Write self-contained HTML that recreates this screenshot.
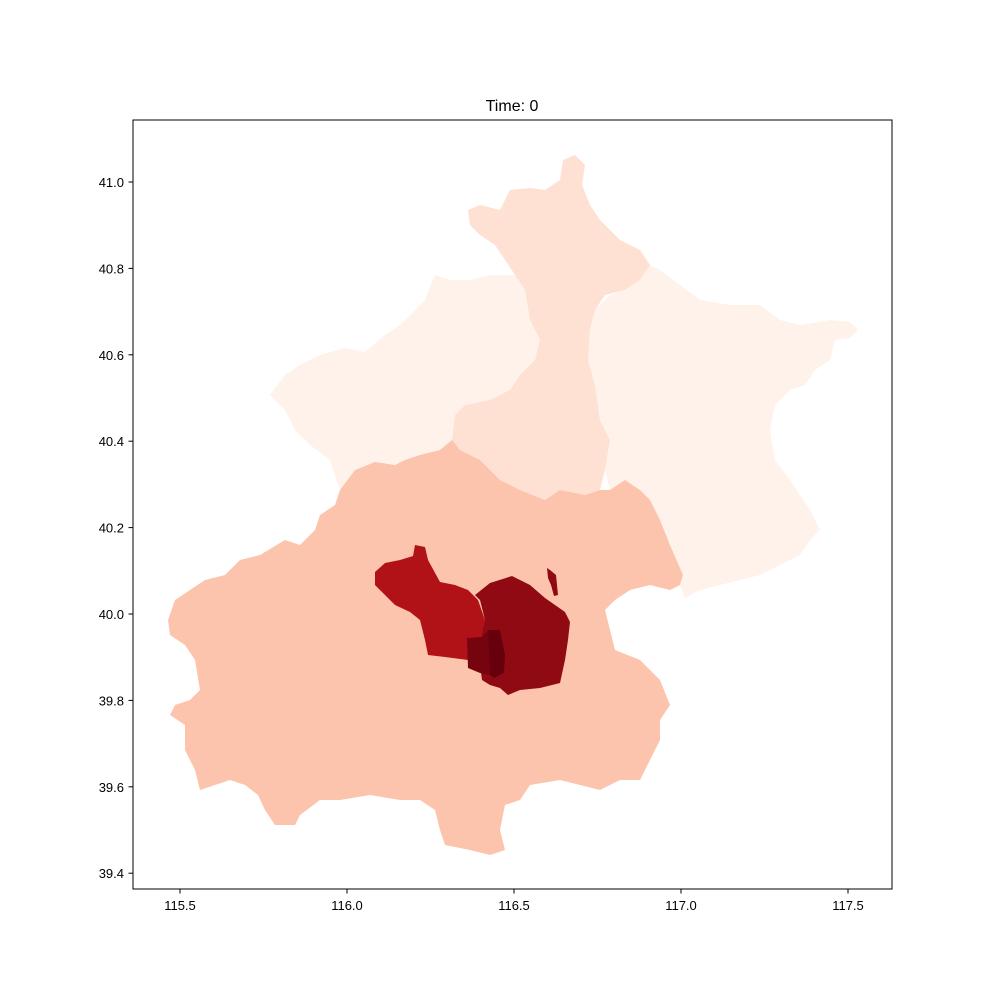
<!DOCTYPE html>
<html><head><meta charset="utf-8"><style>
body{margin:0;background:#fff;}
svg{display:block;font-family:"Liberation Sans",sans-serif;}
</style></head><body>
<svg id="chart" width="1000" height="1000" viewBox="0 0 1000 1000">
<text x="512" y="111" font-size="16" text-anchor="middle">Time: 0</text>
<g id="regions"></g>
<rect x="133" y="120" width="759" height="769" fill="none" stroke="#000" stroke-width="1"/>
<g id="xt"></g>
<g id="yt"></g>
</svg>
<script>
const xTicks=[115.5,116.0,116.5,117.0,117.5];
const yTicks=[39.4,39.6,39.8,40.0,40.2,40.4,40.6,40.8,41.0];
const regionNames=['yanqing','huairou','miyun','southwest','chaoyang','haidian','chaoyang-exclave','xicheng','dongcheng'];
const regionValues=[0.02,0.12,0.02,0.22,0.92,0.84,0.92,0.97,1.0];
// outlines in reference grid units (px of reference axes)
const outlines=[
[[270,395],[285,375],[300,365],[320,355],[345,348],[365,352],[385,335],[400,325],[410,315],[425,300],[435,275],[450,280],[470,280],[490,275],[515,275],[525,290],[530,320],[540,340],[535,360],[520,375],[510,390],[490,400],[465,405],[455,415],[452,440],[440,450],[420,455],[405,460],[395,465],[375,462],[355,470],[340,490],[330,460],[310,445],[295,430],[285,410],[275,400]],
[[468,210],[480,205],[500,210],[510,190],[530,188],[545,190],[560,180],[563,160],[575,155],[585,165],[582,185],[590,205],[600,220],[620,240],[640,250],[650,265],[640,280],[625,290],[605,295],[595,310],[590,330],[588,360],[595,385],[600,420],[610,440],[605,470],[600,490],[585,495],[560,490],[545,500],[520,490],[500,480],[480,460],[460,450],[452,440],[455,415],[465,405],[490,400],[510,390],[520,375],[535,360],[540,340],[530,320],[525,290],[515,275],[505,260],[495,245],[480,235],[470,225]],
[[595,310],[610,295],[625,290],[640,280],[650,265],[660,270],[680,285],[700,300],[730,305],[760,305],[780,320],[800,325],[830,320],[850,322],[858,330],[850,338],[835,340],[830,360],[815,370],[805,385],[790,390],[775,405],[770,430],[775,460],[790,480],[800,495],[810,510],[820,530],[810,540],[800,555],[780,565],[760,575],[740,580],[720,585],[700,590],[685,598],[680,585],[683,575],[670,545],[660,520],[650,500],[640,490],[625,480],[610,490],[605,470],[610,440],[600,420],[595,385],[588,360],[590,330]],
[[405,460],[420,455],[440,450],[452,440],[460,450],[480,460],[500,480],[520,490],[545,500],[560,490],[585,495],[600,490],[610,490],[625,480],[640,490],[650,500],[660,520],[670,545],[683,575],[680,585],[670,590],[650,585],[630,590],[615,600],[605,610],[610,630],[615,650],[640,660],[660,680],[670,705],[660,720],[660,740],[650,760],[640,780],[620,780],[600,790],[580,785],[560,780],[530,785],[520,800],[505,805],[500,830],[505,850],[490,855],[470,850],[445,845],[440,830],[435,810],[420,800],[400,800],[370,795],[340,800],[320,800],[300,815],[295,825],[275,825],[265,810],[258,795],[245,785],[230,780],[215,785],[200,790],[195,770],[185,750],[185,725],[170,715],[175,705],[190,700],[200,690],[195,660],[185,645],[170,635],[168,620],[175,600],[190,590],[205,580],[225,575],[240,560],[260,555],[285,540],[300,545],[315,530],[320,515],[335,505],[340,490],[355,470],[375,462],[395,465]],
[[475,595],[490,583],[512,576],[530,585],[545,598],[565,612],[570,622],[568,640],[565,660],[560,683],[540,688],[520,690],[508,695],[500,688],[490,685],[482,680],[480,665],[475,650],[480,635],[485,620],[480,600]],
[[375,572],[385,563],[400,560],[413,556],[415,545],[425,547],[428,560],[440,582],[455,585],[468,590],[478,600],[485,620],[482,635],[478,655],[468,660],[445,657],[428,655],[425,640],[420,620],[410,612],[395,605],[385,595],[375,585]],
[[547,568],[550,570],[556,575],[558,595],[554,596],[551,585],[548,578]],
[[467,638],[482,637],[488,630],[490,675],[480,673],[468,668]],
[[488,630],[500,630],[502,640],[505,655],[504,673],[494,678],[490,675]]
];
function reds(t){const s=[[255,245,240],[254,224,210],[252,187,161],[252,146,114],[251,106,74],[239,59,44],[203,24,29],[165,15,21],[103,0,13]];const p=t*(s.length-1),i=Math.min(Math.floor(p),s.length-2),f=p-i;return 'rgb('+s[i].map((c,k)=>Math.round(c+(s[i+1][k]-c)*f)).join(',')+')';}
const X=v=>180+(v-115.5)*334, Y=v=>614-(v-40)*432;
const NS='http://www.w3.org/2000/svg';
const rg=document.getElementById('regions');
outlines.forEach((o,i)=>{const p=document.createElementNS(NS,'polygon');
p.setAttribute('points',o.map(q=>q.join(',')).join(' '));
p.setAttribute('fill',reds(regionValues[i]));


rg.appendChild(p);});
const xt=document.getElementById('xt');
xTicks.forEach(v=>{const x=X(v);const l=document.createElementNS(NS,'line');l.setAttribute('x1',x);l.setAttribute('x2',x);l.setAttribute('y1',889);l.setAttribute('y2',893.5);l.setAttribute('stroke','#000');


xt.appendChild(l);const t=document.createElementNS(NS,'text');t.setAttribute('x',x);t.setAttribute('y',910);t.setAttribute('font-size','13');t.setAttribute('text-anchor','middle');t.textContent=v.toFixed(1);


xt.appendChild(t);});
const yt=document.getElementById('yt');
yTicks.forEach(v=>{const y=Y(v);const l=document.createElementNS(NS,'line');l.setAttribute('x1',128.5);l.setAttribute('x2',133);l.setAttribute('y1',y);l.setAttribute('y2',y);l.setAttribute('stroke','#000');


yt.appendChild(l);const t=document.createElementNS(NS,'text');t.setAttribute('x',124);t.setAttribute('y',y+5);t.setAttribute('font-size','13');t.setAttribute('text-anchor','end');t.textContent=v.toFixed(1);


yt.appendChild(t);});
</script>
</body></html>
